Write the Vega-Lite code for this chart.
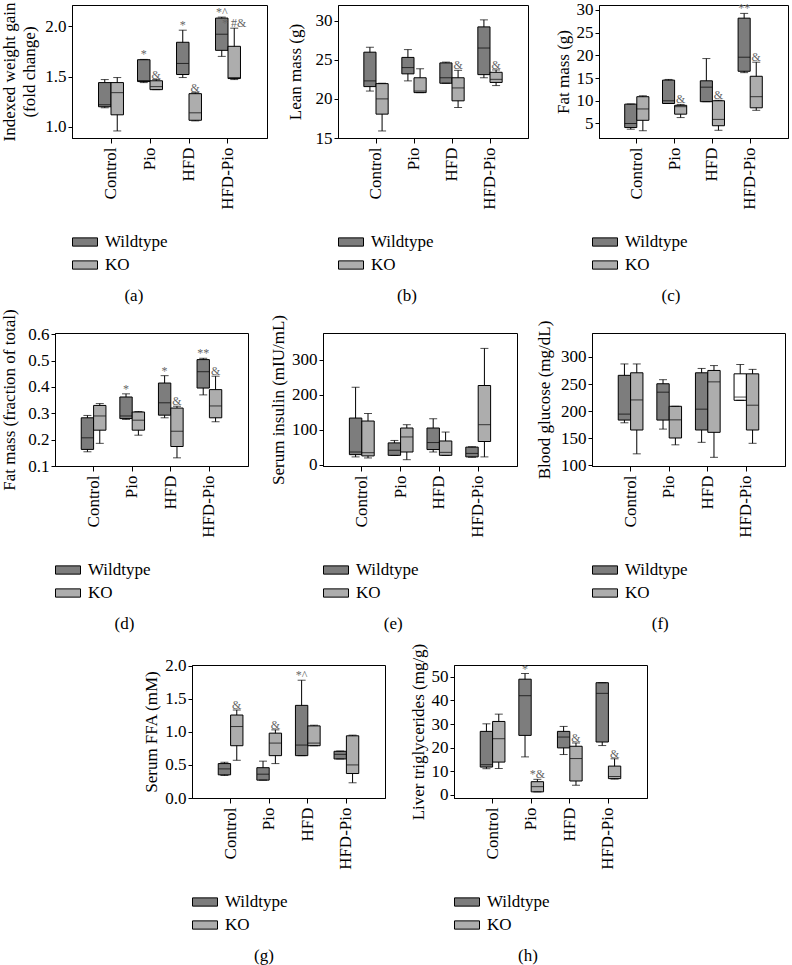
{
"$schema": "https://vega.github.io/schema/vega-lite/v6.json",
"padding": 0,
"background": "white",
"data": {"values": [
{"panel":"a","group":"Control","geno":"Wildtype","min":1.19,"q1":1.20,"med":1.22,"q3":1.44,"max":1.47,"sig":""},
{"panel":"a","group":"Control","geno":"KO","min":0.96,"q1":1.12,"med":1.34,"q3":1.44,"max":1.49,"sig":""},
{"panel":"a","group":"Pio","geno":"Wildtype","min":1.44,"q1":1.45,"med":1.46,"q3":1.667,"max":1.67,"sig":"*"},
{"panel":"a","group":"Pio","geno":"KO","min":1.37,"q1":1.37,"med":1.40,"q3":1.458,"max":1.47,"sig":"&"},
{"panel":"a","group":"HFD","geno":"Wildtype","min":1.49,"q1":1.52,"med":1.63,"q3":1.84,"max":1.96,"sig":"*"},
{"panel":"a","group":"HFD","geno":"KO","min":1.06,"q1":1.066,"med":1.14,"q3":1.33,"max":1.34,"sig":"&"},
{"panel":"a","group":"HFD-Pio","geno":"Wildtype","min":1.70,"q1":1.76,"med":1.92,"q3":2.08,"max":2.09,"sig":"*^"},
{"panel":"a","group":"HFD-Pio","geno":"KO","min":1.47,"q1":1.48,"med":1.49,"q3":1.80,"max":1.98,"sig":"*  #&"},
{"panel":"b","group":"Control","geno":"Wildtype","min":21.0,"q1":21.57,"med":22.3,"q3":25.97,"max":26.6,"sig":""},
{"panel":"b","group":"Control","geno":"KO","min":15.9,"q1":18.05,"med":20.0,"q3":21.95,"max":22.0,"sig":""},
{"panel":"b","group":"Pio","geno":"Wildtype","min":22.3,"q1":23.2,"med":24.0,"q3":25.3,"max":26.3,"sig":""},
{"panel":"b","group":"Pio","geno":"KO","min":20.8,"q1":20.8,"med":21.0,"q3":22.7,"max":23.85,"sig":""},
{"panel":"b","group":"HFD","geno":"Wildtype","min":22.0,"q1":22.0,"med":22.7,"q3":24.6,"max":24.7,"sig":""},
{"panel":"b","group":"HFD","geno":"KO","min":18.9,"q1":19.75,"med":21.4,"q3":22.7,"max":23.65,"sig":"&"},
{"panel":"b","group":"HFD-Pio","geno":"Wildtype","min":22.7,"q1":23.1,"med":26.5,"q3":29.2,"max":30.1,"sig":""},
{"panel":"b","group":"HFD-Pio","geno":"KO","min":21.7,"q1":22.1,"med":22.5,"q3":23.4,"max":23.7,"sig":"&"},
{"panel":"c","group":"Control","geno":"Wildtype","min":3.74,"q1":4.1,"med":5.0,"q3":9.26,"max":9.3,"sig":""},
{"panel":"c","group":"Control","geno":"KO","min":3.4,"q1":5.7,"med":8.2,"q3":10.9,"max":11.1,"sig":""},
{"panel":"c","group":"Pio","geno":"Wildtype","min":9.4,"q1":9.4,"med":10.0,"q3":14.55,"max":14.7,"sig":""},
{"panel":"c","group":"Pio","geno":"KO","min":6.3,"q1":7.05,"med":8.7,"q3":9.0,"max":9.2,"sig":"&"},
{"panel":"c","group":"HFD","geno":"Wildtype","min":9.8,"q1":9.8,"med":13.0,"q3":14.4,"max":19.3,"sig":""},
{"panel":"c","group":"HFD","geno":"KO","min":3.5,"q1":4.5,"med":5.9,"q3":10.0,"max":10.1,"sig":"&"},
{"panel":"c","group":"HFD-Pio","geno":"Wildtype","min":16.2,"q1":16.5,"med":19.6,"q3":28.2,"max":29.25,"sig":"**"},
{"panel":"c","group":"HFD-Pio","geno":"KO","min":7.9,"q1":8.45,"med":10.9,"q3":15.4,"max":18.5,"sig":"&"},
{"panel":"d","group":"Control","geno":"Wildtype","min":0.154,"q1":0.163,"med":0.207,"q3":0.283,"max":0.292,"sig":""},
{"panel":"d","group":"Control","geno":"KO","min":0.186,"q1":0.236,"med":0.29,"q3":0.330,"max":0.337,"sig":""},
{"panel":"d","group":"Pio","geno":"Wildtype","min":0.277,"q1":0.28,"med":0.29,"q3":0.362,"max":0.374,"sig":"*"},
{"panel":"d","group":"Pio","geno":"KO","min":0.217,"q1":0.236,"med":0.274,"q3":0.305,"max":0.307,"sig":""},
{"panel":"d","group":"HFD","geno":"Wildtype","min":0.283,"q1":0.293,"med":0.34,"q3":0.415,"max":0.443,"sig":"*"},
{"panel":"d","group":"HFD","geno":"KO","min":0.131,"q1":0.174,"med":0.232,"q3":0.32,"max":0.327,"sig":"&"},
{"panel":"d","group":"HFD-Pio","geno":"Wildtype","min":0.37,"q1":0.396,"med":0.458,"q3":0.504,"max":0.509,"sig":"**"},
{"panel":"d","group":"HFD-Pio","geno":"KO","min":0.268,"q1":0.283,"med":0.328,"q3":0.39,"max":0.441,"sig":"&"},
{"panel":"e","group":"Control","geno":"Wildtype","min":22,"q1":28.5,"med":36,"q3":133,"max":221,"sig":""},
{"panel":"e","group":"Control","geno":"KO","min":19,"q1":24.8,"med":34,"q3":124.5,"max":146,"sig":""},
{"panel":"e","group":"Pio","geno":"Wildtype","min":26,"q1":26.5,"med":41,"q3":62,"max":69,"sig":""},
{"panel":"e","group":"Pio","geno":"KO","min":14,"q1":36,"med":79,"q3":104.5,"max":114,"sig":""},
{"panel":"e","group":"HFD","geno":"Wildtype","min":36,"q1":43,"med":63,"q3":104.5,"max":131,"sig":""},
{"panel":"e","group":"HFD","geno":"KO","min":26,"q1":26.5,"med":35,"q3":67.5,"max":93,"sig":""},
{"panel":"e","group":"HFD-Pio","geno":"Wildtype","min":21,"q1":22,"med":32,"q3":50,"max":51,"sig":""},
{"panel":"e","group":"HFD-Pio","geno":"KO","min":22,"q1":66,"med":114,"q3":226,"max":332,"sig":""},
{"panel":"f","group":"Control","geno":"Wildtype","min":178.6,"q1":183.6,"med":194.6,"q3":266,"max":287,"sig":""},
{"panel":"f","group":"Control","geno":"KO","min":121.4,"q1":165.3,"med":220.7,"q3":270.7,"max":287,"sig":""},
{"panel":"f","group":"Pio","geno":"Wildtype","min":167,"q1":183.6,"med":235,"q3":250.5,"max":258,"sig":""},
{"panel":"f","group":"Pio","geno":"KO","min":138,"q1":150.6,"med":184,"q3":209,"max":209,"sig":""},
{"panel":"f","group":"HFD","geno":"Wildtype","min":142.6,"q1":165.3,"med":203.7,"q3":270.7,"max":278.7,"sig":""},
{"panel":"f","group":"HFD","geno":"KO","min":115,"q1":161,"med":254,"q3":275,"max":284,"sig":""},
{"panel":"f","group":"HFD-Pio","geno":"Wildtype","min":220,"q1":220,"med":226,"q3":268.8,"max":286,"sig":""},
{"panel":"f","group":"HFD-Pio","geno":"KO","min":140.8,"q1":165.3,"med":211,"q3":268.8,"max":277,"sig":""},
{"panel":"g","group":"Control","geno":"Wildtype","min":0.34,"q1":0.35,"med":0.44,"q3":0.52,"max":0.54,"sig":""},
{"panel":"g","group":"Control","geno":"KO","min":0.57,"q1":0.79,"med":1.08,"q3":1.254,"max":1.33,"sig":"&"},
{"panel":"g","group":"Pio","geno":"Wildtype","min":0.27,"q1":0.27,"med":0.36,"q3":0.458,"max":0.557,"sig":""},
{"panel":"g","group":"Pio","geno":"KO","min":0.52,"q1":0.64,"med":0.83,"q3":0.98,"max":1.03,"sig":"&"},
{"panel":"g","group":"HFD","geno":"Wildtype","min":0.64,"q1":0.64,"med":0.8,"q3":1.40,"max":1.78,"sig":"*^"},
{"panel":"g","group":"HFD","geno":"KO","min":0.79,"q1":0.79,"med":0.83,"q3":1.09,"max":1.1,"sig":""},
{"panel":"g","group":"HFD-Pio","geno":"Wildtype","min":0.59,"q1":0.59,"med":0.66,"q3":0.706,"max":0.71,"sig":""},
{"panel":"g","group":"HFD-Pio","geno":"KO","min":0.23,"q1":0.37,"med":0.5,"q3":0.94,"max":0.95,"sig":""},
{"panel":"h","group":"Control","geno":"Wildtype","min":11.1,"q1":11.8,"med":12.8,"q3":26.9,"max":30.1,"sig":""},
{"panel":"h","group":"Control","geno":"KO","min":11.2,"q1":13.9,"med":23.8,"q3":31.1,"max":34.2,"sig":""},
{"panel":"h","group":"Pio","geno":"Wildtype","min":16.1,"q1":25.2,"med":42,"q3":49,"max":51.4,"sig":"*"},
{"panel":"h","group":"Pio","geno":"KO","min":1.3,"q1":1.3,"med":3.5,"q3":5.6,"max":6.6,"sig":"*&"},
{"panel":"h","group":"HFD","geno":"Wildtype","min":17.1,"q1":19.9,"med":24.5,"q3":26.9,"max":29,"sig":""},
{"panel":"h","group":"HFD","geno":"KO","min":4.1,"q1":5.9,"med":15.4,"q3":20.6,"max":22,"sig":"&"},
{"panel":"h","group":"HFD-Pio","geno":"Wildtype","min":20.9,"q1":22.4,"med":43,"q3":47.5,"max":47.5,"sig":""},
{"panel":"h","group":"HFD-Pio","geno":"KO","min":6.7,"q1":6.9,"med":7.8,"q3":12.2,"max":15.3,"sig":"&"}
]},
"vconcat": [
{"hconcat": [
{"width":1,"height":1,"data":{"values":[]},"mark":{"type":"point","opacity":0},"view":{"stroke":null}},
{"hconcat": [
{"width":195,"height":133,"transform":[{"filter":"datum.panel==='a'"}],"title":"(a)",
 "encoding":{"x":{"field":"group","type":"nominal","sort":["Control","Pio","HFD","HFD-Pio"],"scale":{"paddingInner":0.36,"paddingOuter":0.68},"axis":{"title":null}},"xOffset":{"field":"geno","type":"nominal","sort":["Wildtype","KO"]}},
 "layer":[
  {"mark":{"type":"rule","color":"black"},"encoding":{"y":{"field":"min","type":"quantitative","scale":{"domain":[0.89,2.21],"nice":false,"zero":false},"axis":{"title":["Indexed weight gain","(fold change)"],"values":[1,1.5,2],"tickCount":20,"format":".1f","titlePadding":6,"labelOverlap":false}},"y2":{"field":"max"}}},
  {"mark":{"type":"bar","stroke":"black","strokeWidth":1},"encoding":{"y":{"field":"q1","type":"quantitative"},"y2":{"field":"q3"},"fill":{"field":"geno","type":"nominal","scale":{"domain":["Wildtype","KO"],"range":["#7d7d7d","#adadad"]},"legend":{"title":null,"orient":"none","legendX":0,"legendY":224,"direction":"vertical"}}}},
  {"mark":{"type":"tick","color":"black","size":12,"thickness":1},"encoding":{"y":{"field":"med","type":"quantitative"}}},
  {"mark":{"type":"tick","color":"black","size":8,"thickness":1},"encoding":{"y":{"field":"max","type":"quantitative"}}},
  {"mark":{"type":"tick","color":"black","size":8,"thickness":1},"encoding":{"y":{"field":"min","type":"quantitative"}}},
  {"mark":{"type":"text","dy":-1,"fontSize":12,"color":"#666","baseline":"alphabetic"},"encoding":{"y":{"field":"max","type":"quantitative"},"text":{"field":"sig"}}}
 ]},
{"width":190,"height":133,"transform":[{"filter":"datum.panel==='b'"}],"title":"(b)",
 "encoding":{"x":{"field":"group","type":"nominal","sort":["Control","Pio","HFD","HFD-Pio"],"scale":{"paddingInner":0.36,"paddingOuter":0.68},"axis":{"title":null}},"xOffset":{"field":"geno","type":"nominal","sort":["Wildtype","KO"]}},
 "layer":[
  {"mark":{"type":"rule","color":"black"},"encoding":{"y":{"field":"min","type":"quantitative","scale":{"domain":[15,32],"nice":false,"zero":false},"axis":{"title":"Lean mass (g)","values":[15,20,25,30],"tickCount":20,"titlePadding":11,"labelOverlap":false}},"y2":{"field":"max"}}},
  {"mark":{"type":"bar","stroke":"black","strokeWidth":1},"encoding":{"y":{"field":"q1","type":"quantitative"},"y2":{"field":"q3"},"fill":{"field":"geno","type":"nominal","scale":{"domain":["Wildtype","KO"],"range":["#7d7d7d","#adadad"]},"legend":{"title":null,"orient":"none","legendX":0,"legendY":224,"direction":"vertical"}}}},
  {"mark":{"type":"tick","color":"black","size":12,"thickness":1},"encoding":{"y":{"field":"med","type":"quantitative"}}},
  {"mark":{"type":"tick","color":"black","size":8,"thickness":1},"encoding":{"y":{"field":"max","type":"quantitative"}}},
  {"mark":{"type":"tick","color":"black","size":8,"thickness":1},"encoding":{"y":{"field":"min","type":"quantitative"}}},
  {"mark":{"type":"text","dy":-1,"fontSize":12,"color":"#666","baseline":"alphabetic"},"encoding":{"y":{"field":"max","type":"quantitative"},"text":{"field":"sig"}}}
 ]},
{"width":189,"height":133,"transform":[{"filter":"datum.panel==='c'"}],"title":"(c)",
 "encoding":{"x":{"field":"group","type":"nominal","sort":["Control","Pio","HFD","HFD-Pio"],"scale":{"paddingInner":0.36,"paddingOuter":0.68},"axis":{"title":null}},"xOffset":{"field":"geno","type":"nominal","sort":["Wildtype","KO"]}},
 "layer":[
  {"mark":{"type":"rule","color":"black"},"encoding":{"y":{"field":"min","type":"quantitative","scale":{"domain":[1.8,31.1],"nice":false,"zero":false},"axis":{"title":"Fat mass (g)","values":[5,10,15,20,25,30],"tickCount":20,"titlePadding":4,"labelOverlap":false}},"y2":{"field":"max"}}},
  {"mark":{"type":"bar","stroke":"black","strokeWidth":1},"encoding":{"y":{"field":"q1","type":"quantitative"},"y2":{"field":"q3"},"fill":{"field":"geno","type":"nominal","scale":{"domain":["Wildtype","KO"],"range":["#7d7d7d","#adadad"]},"legend":{"title":null,"orient":"none","legendX":-7,"legendY":224,"direction":"vertical"}}}},
  {"mark":{"type":"tick","color":"black","size":12,"thickness":1},"encoding":{"y":{"field":"med","type":"quantitative"}}},
  {"mark":{"type":"tick","color":"black","size":8,"thickness":1},"encoding":{"y":{"field":"max","type":"quantitative"}}},
  {"mark":{"type":"tick","color":"black","size":8,"thickness":1},"encoding":{"y":{"field":"min","type":"quantitative"}}},
  {"mark":{"type":"text","dy":-1,"fontSize":12,"color":"#666","baseline":"alphabetic"},"encoding":{"y":{"field":"max","type":"quantitative"},"text":{"field":"sig"}}}
 ]}
], "spacing": 71, "bounds": "flush",
 "resolve":{"scale":{"fill":"independent","y":"independent","x":"independent","xOffset":"independent"},"legend":{"fill":"independent"}}}
], "spacing": 16, "bounds": "flush",
 "resolve":{"scale":{"fill":"independent","y":"independent","x":"independent","xOffset":"independent"},"legend":{"fill":"independent"}}},
{"vconcat": [
{"hconcat": [
{"width":193,"height":133,"transform":[{"filter":"datum.panel==='d'"}],"title":"(d)",
 "encoding":{"x":{"field":"group","type":"nominal","sort":["Control","Pio","HFD","HFD-Pio"],"scale":{"paddingInner":0.36,"paddingOuter":0.68},"axis":{"title":null}},"xOffset":{"field":"geno","type":"nominal","sort":["Wildtype","KO"]}},
 "layer":[
  {"mark":{"type":"rule","color":"black"},"encoding":{"y":{"field":"min","type":"quantitative","scale":{"domain":[0.1,0.605],"nice":false,"zero":false},"axis":{"title":"Fat mass (fraction of total)","values":[0.1,0.2,0.3,0.4,0.5,0.6],"tickCount":20,"format":".1f","titlePadding":9,"labelOverlap":false}},"y2":{"field":"max"}}},
  {"mark":{"type":"bar","stroke":"black","strokeWidth":1},"encoding":{"y":{"field":"q1","type":"quantitative"},"y2":{"field":"q3"},"fill":{"field":"geno","type":"nominal","scale":{"domain":["Wildtype","KO"],"range":["#7d7d7d","#adadad"]},"legend":{"title":null,"orient":"none","legendX":0,"legendY":224,"direction":"vertical"}}}},
  {"mark":{"type":"tick","color":"black","size":12,"thickness":1},"encoding":{"y":{"field":"med","type":"quantitative"}}},
  {"mark":{"type":"tick","color":"black","size":8,"thickness":1},"encoding":{"y":{"field":"max","type":"quantitative"}}},
  {"mark":{"type":"tick","color":"black","size":8,"thickness":1},"encoding":{"y":{"field":"min","type":"quantitative"}}},
  {"mark":{"type":"text","dy":-1,"fontSize":12,"color":"#666","baseline":"alphabetic"},"encoding":{"y":{"field":"max","type":"quantitative"},"text":{"field":"sig"}}}
 ]},
{"width":194,"height":133,"transform":[{"filter":"datum.panel==='e'"}],"title":"(e)",
 "encoding":{"x":{"field":"group","type":"nominal","sort":["Control","Pio","HFD","HFD-Pio"],"scale":{"paddingInner":0.36,"paddingOuter":0.68},"axis":{"title":null}},"xOffset":{"field":"geno","type":"nominal","sort":["Wildtype","KO"]}},
 "layer":[
  {"mark":{"type":"rule","color":"black"},"encoding":{"y":{"field":"min","type":"quantitative","scale":{"domain":[-4,376],"nice":false,"zero":false},"axis":{"title":"Serum insulin (mIU/mL)","values":[0,100,200,300],"tickCount":20,"titlePadding":4,"labelOverlap":false}},"y2":{"field":"max"}}},
  {"mark":{"type":"bar","stroke":"black","strokeWidth":1},"encoding":{"y":{"field":"q1","type":"quantitative"},"y2":{"field":"q3"},"fill":{"field":"geno","type":"nominal","scale":{"domain":["Wildtype","KO"],"range":["#7d7d7d","#adadad"]},"legend":{"title":null,"orient":"none","legendX":0,"legendY":224,"direction":"vertical"}}}},
  {"mark":{"type":"tick","color":"black","size":12,"thickness":1},"encoding":{"y":{"field":"med","type":"quantitative"}}},
  {"mark":{"type":"tick","color":"black","size":8,"thickness":1},"encoding":{"y":{"field":"max","type":"quantitative"}}},
  {"mark":{"type":"tick","color":"black","size":8,"thickness":1},"encoding":{"y":{"field":"min","type":"quantitative"}}},
  {"mark":{"type":"text","dy":-1,"fontSize":12,"color":"#666","baseline":"alphabetic"},"encoding":{"y":{"field":"max","type":"quantitative"},"text":{"field":"sig"}}}
 ]},
{"width":193,"height":133,"transform":[{"filter":"datum.panel==='f'"}],"title":"(f)",
 "encoding":{"x":{"field":"group","type":"nominal","sort":["Control","Pio","HFD","HFD-Pio"],"scale":{"paddingInner":0.36,"paddingOuter":0.68},"axis":{"title":null}},"xOffset":{"field":"geno","type":"nominal","sort":["Wildtype","KO"]}},
 "layer":[
  {"mark":{"type":"rule","color":"black"},"encoding":{"y":{"field":"min","type":"quantitative","scale":{"domain":[99,344],"nice":false,"zero":false},"axis":{"title":"Blood glucose (mg/dL)","values":[100,150,200,250,300],"tickCount":20,"titlePadding":7,"labelOverlap":false}},"y2":{"field":"max"}}},
  {"mark":{"type":"bar","stroke":"black","strokeWidth":1},"encoding":{"y":{"field":"q1","type":"quantitative"},"y2":{"field":"q3"},"fill":{"condition":{"test":"datum.group==='HFD-Pio' && datum.geno==='Wildtype'","value":"white"},"field":"geno","type":"nominal","scale":{"domain":["Wildtype","KO"],"range":["#7d7d7d","#adadad"]},"legend":{"title":null,"orient":"none","legendX":0,"legendY":224,"direction":"vertical"}}}},
  {"mark":{"type":"tick","color":"black","size":12,"thickness":1},"encoding":{"y":{"field":"med","type":"quantitative"}}},
  {"mark":{"type":"tick","color":"black","size":8,"thickness":1},"encoding":{"y":{"field":"max","type":"quantitative"}}},
  {"mark":{"type":"tick","color":"black","size":8,"thickness":1},"encoding":{"y":{"field":"min","type":"quantitative"}}},
  {"mark":{"type":"text","dy":-1,"fontSize":12,"color":"#666","baseline":"alphabetic"},"encoding":{"y":{"field":"max","type":"quantitative"},"text":{"field":"sig"}}}
 ]}
], "spacing": 75, "bounds": "flush",
 "resolve":{"scale":{"fill":"independent","y":"independent","x":"independent","xOffset":"independent"},"legend":{"fill":"independent"}}},
{"hconcat": [
{"width":68,"height":1,"data":{"values":[]},"mark":{"type":"point","opacity":0},"view":{"stroke":null}},
{"width":193,"height":133,"transform":[{"filter":"datum.panel==='g'"}],"title":"(g)",
 "encoding":{"x":{"field":"group","type":"nominal","sort":["Control","Pio","HFD","HFD-Pio"],"scale":{"paddingInner":0.36,"paddingOuter":0.68},"axis":{"title":null}},"xOffset":{"field":"geno","type":"nominal","sort":["Wildtype","KO"]}},
 "layer":[
  {"mark":{"type":"rule","color":"black"},"encoding":{"y":{"field":"min","type":"quantitative","scale":{"domain":[0,2.01],"nice":false,"zero":false},"axis":{"title":"Serum FFA (mM)","values":[0,0.5,1,1.5,2],"tickCount":20,"format":".1f","titlePadding":4,"labelOverlap":false}},"y2":{"field":"max"}}},
  {"mark":{"type":"bar","stroke":"black","strokeWidth":1},"encoding":{"y":{"field":"q1","type":"quantitative"},"y2":{"field":"q3"},"fill":{"field":"geno","type":"nominal","scale":{"domain":["Wildtype","KO"],"range":["#7d7d7d","#adadad"]},"legend":{"title":null,"orient":"none","legendX":0,"legendY":224,"direction":"vertical"}}}},
  {"mark":{"type":"tick","color":"black","size":12,"thickness":1},"encoding":{"y":{"field":"med","type":"quantitative"}}},
  {"mark":{"type":"tick","color":"black","size":8,"thickness":1},"encoding":{"y":{"field":"max","type":"quantitative"}}},
  {"mark":{"type":"tick","color":"black","size":8,"thickness":1},"encoding":{"y":{"field":"min","type":"quantitative"}}},
  {"mark":{"type":"text","dy":-1,"fontSize":12,"color":"#666","baseline":"alphabetic"},"encoding":{"y":{"field":"max","type":"quantitative"},"text":{"field":"sig"}}}
 ]},
{"width":193,"height":133,"transform":[{"filter":"datum.panel==='h'"}],"title":"(h)",
 "encoding":{"x":{"field":"group","type":"nominal","sort":["Control","Pio","HFD","HFD-Pio"],"scale":{"paddingInner":0.36,"paddingOuter":0.68},"axis":{"title":null}},"xOffset":{"field":"geno","type":"nominal","sort":["Wildtype","KO"]}},
 "layer":[
  {"mark":{"type":"rule","color":"black"},"encoding":{"y":{"field":"min","type":"quantitative","scale":{"domain":[-1.3,55],"nice":false,"zero":false},"axis":{"title":"Liver triglycerides (mg/g)","values":[0,10,20,30,40,50],"tickCount":20,"titlePadding":4,"labelOverlap":false}},"y2":{"field":"max"}}},
  {"mark":{"type":"bar","stroke":"black","strokeWidth":1},"encoding":{"y":{"field":"q1","type":"quantitative"},"y2":{"field":"q3"},"fill":{"field":"geno","type":"nominal","scale":{"domain":["Wildtype","KO"],"range":["#7d7d7d","#adadad"]},"legend":{"title":null,"orient":"none","legendX":0,"legendY":224,"direction":"vertical"}}}},
  {"mark":{"type":"tick","color":"black","size":12,"thickness":1},"encoding":{"y":{"field":"med","type":"quantitative"}}},
  {"mark":{"type":"tick","color":"black","size":8,"thickness":1},"encoding":{"y":{"field":"max","type":"quantitative"}}},
  {"mark":{"type":"tick","color":"black","size":8,"thickness":1},"encoding":{"y":{"field":"min","type":"quantitative"}}},
  {"mark":{"type":"text","dy":-1,"fontSize":12,"color":"#666","baseline":"alphabetic"},"encoding":{"y":{"field":"max","type":"quantitative"},"text":{"field":"sig"}}}
 ]}
], "spacing": 69, "bounds": "flush",
 "resolve":{"scale":{"fill":"independent","y":"independent","x":"independent","xOffset":"independent"},"legend":{"fill":"independent"}}}
], "spacing": 9,
 "resolve":{"scale":{"fill":"independent","y":"independent","x":"independent","xOffset":"independent"},"legend":{"fill":"independent"}}}
],
"spacing": 3,
"resolve":{"scale":{"fill":"independent","y":"independent","x":"independent","xOffset":"independent"},"legend":{"fill":"independent"}},
"config": {
 "font": "Liberation Serif",
 "view": {"stroke": "black", "strokeWidth": 1},
 "axis": {"labelFont":"Liberation Serif","labelFontSize":17,"labelColor":"black","titleFont":"Liberation Serif","titleFontSize":17,"titleFontWeight":"normal","titleColor":"black","domainColor":"black","tickColor":"black","grid":false,"tickSize":4,"labelPadding":2,"titleLineHeight":20,"labelOverlap":false},
 "axisX": {"labelAngle":-90,"tickSize":5,"labelPadding":4},
 "legend": {"labelFont":"Liberation Serif","labelFontSize":17,"labelColor":"black","symbolType":"M-1,-0.33H1V0.33H-1Z","symbolSize":625,"symbolStrokeColor":"black","symbolStrokeWidth":1,"labelOffset":7,"rowPadding":2,"symbolOpacity":1},
 "title": {"font":"Liberation Serif","fontSize":17,"fontWeight":"normal","color":"black","orient":"bottom","anchor":"middle","frame":"bounds","offset":15}
}
}
